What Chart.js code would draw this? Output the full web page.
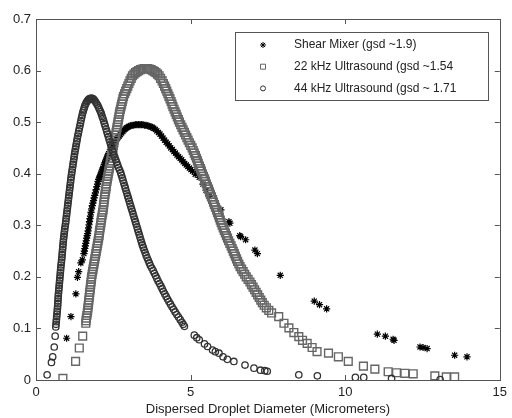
<!DOCTYPE html>
<html>
<head>
<meta charset="utf-8">
<script src="https://cdn.jsdelivr.net/npm/chart.js@4/dist/chart.umd.min.js"></script>
<style>
  html, body { margin: 0; padding: 0; background: #fff; }
  #wrap { width: 512px; height: 418px; position: relative; }
</style>
</head>
<body>
<div id="wrap"><canvas id="dropChart" width="512" height="418"></canvas></div>
<script>
// series labels, same order as the legend
const seriesNames = ["Shear Mixer (gsd ~1.9)", "22 kHz Ultrasound (gsd ~1.54", "44 kHz Ultrasound (gsd ~ 1.71"];

// tick labels
const xTicks = ["0", "5", "10", "15"];
const yTicks = ["0", "0.1", "0.2", "0.3", "0.4", "0.5", "0.6", "0.7"];

// Shear mixer (stars): [diameter, frequency]
const shearPts = [
  [0.99,0.081],[1.13,0.123],[1.29,0.167],[1.34,0.199],[1.38,0.210],[1.45,0.227],[1.50,0.233],
  [1.550,0.245],[1.565,0.250],[1.580,0.255],[1.595,0.260],[1.610,0.265],[1.625,0.270],[1.640,0.275],[1.655,0.280],
  [1.670,0.284],[1.685,0.289],[1.700,0.295],[1.715,0.301],[1.730,0.307],[1.745,0.313],[1.760,0.318],[1.780,0.325],
  [1.800,0.332],[1.820,0.338],[1.840,0.343],[1.860,0.348],[1.880,0.353],[1.900,0.358],[1.920,0.363],[1.945,0.369],
  [1.970,0.375],[1.990,0.380],[2.010,0.385],[2.030,0.389],[2.050,0.392],[2.070,0.395],[2.090,0.398],[2.110,0.401],
  [2.130,0.405],[2.150,0.408],[2.170,0.411],[2.190,0.414],[2.210,0.418],[2.230,0.421],[2.250,0.424],[2.270,0.427],
  [2.290,0.430],[2.310,0.433],[2.330,0.436],[2.350,0.439],[2.380,0.443],[2.410,0.447],[2.440,0.451],[2.470,0.454],
  [2.500,0.457],[2.530,0.460],[2.560,0.463],[2.590,0.465],[2.620,0.468],[2.650,0.470],[2.690,0.473],[2.730,0.476],
  [2.770,0.479],[2.810,0.482],[2.850,0.485],[2.890,0.487],[2.930,0.489],[2.970,0.490],[3.010,0.492],[3.060,0.493],
  [3.110,0.494],[3.160,0.494],[3.210,0.495],[3.260,0.495],[3.310,0.495],[3.360,0.495],[3.410,0.495],[3.460,0.495],
  [3.510,0.494],[3.560,0.494],[3.610,0.493],[3.660,0.492],[3.710,0.491],[3.760,0.490],[3.810,0.488],[3.860,0.486],
  [3.910,0.483],[3.960,0.480],[4.010,0.477],[4.060,0.473],[4.110,0.469],[4.160,0.465],[4.210,0.461],[4.260,0.458],
  [4.310,0.454],[4.360,0.450],[4.410,0.447],[4.460,0.443],[4.510,0.440],[4.560,0.436],[4.610,0.433],[4.660,0.430],
  [4.710,0.427],[4.760,0.423],[4.810,0.420],[4.860,0.417],[4.910,0.414],[4.960,0.411],[5.010,0.408],[5.060,0.405],
  [5.150,0.399],[5.280,0.393],[5.40,0.380],[5.50,0.368],[5.60,0.356],[5.98,0.330],[6.24,0.307],[6.27,0.304],
  [6.59,0.280],[6.62,0.278],[6.78,0.272],[7.08,0.252],[7.16,0.245],[7.90,0.203],[9.00,0.153],[9.17,0.146],[9.40,0.138],
  [11.04,0.089],[11.30,0.085],[11.55,0.079],[11.58,0.077],[12.42,0.064],[12.52,0.063],[12.65,0.061],[13.54,0.048],[13.94,0.045]
];

// 22 kHz ultrasound (squares)
const us22Pts = [
  [0.87,0.003],[1.28,0.036],[1.40,0.062],[1.51,0.085],
  [1.610,0.110],[1.620,0.115],[1.630,0.120],[1.645,0.125],[1.660,0.130],[1.670,0.135],[1.680,0.140],[1.690,0.145],
  [1.700,0.150],[1.710,0.155],[1.720,0.160],[1.730,0.165],[1.740,0.170],[1.750,0.175],[1.760,0.180],[1.770,0.185],
  [1.780,0.190],[1.790,0.195],[1.800,0.200],[1.815,0.205],[1.830,0.210],[1.845,0.215],[1.860,0.220],[1.875,0.225],
  [1.890,0.230],[1.905,0.235],[1.920,0.240],[1.935,0.245],[1.950,0.250],[1.965,0.255],[1.980,0.260],[1.995,0.265],
  [2.010,0.270],[2.025,0.275],[2.040,0.280],[2.050,0.285],[2.060,0.290],[2.075,0.295],[2.090,0.300],[2.100,0.305],
  [2.110,0.310],[2.125,0.315],[2.140,0.320],[2.155,0.325],[2.170,0.330],[2.180,0.335],[2.190,0.340],[2.200,0.345],
  [2.210,0.350],[2.220,0.355],[2.230,0.360],[2.245,0.365],[2.260,0.370],[2.270,0.375],[2.280,0.380],[2.295,0.385],
  [2.310,0.390],[2.325,0.395],[2.340,0.400],[2.355,0.405],[2.370,0.410],[2.385,0.415],[2.400,0.420],[2.415,0.425],
  [2.430,0.430],[2.445,0.435],[2.460,0.440],[2.475,0.445],[2.490,0.450],[2.505,0.455],[2.520,0.460],[2.535,0.465],
  [2.550,0.470],[2.570,0.475],[2.590,0.480],[2.605,0.485],[2.620,0.490],[2.635,0.495],[2.650,0.500],[2.665,0.505],
  [2.680,0.510],[2.695,0.515],[2.710,0.520],[2.730,0.525],[2.750,0.530],[2.770,0.535],[2.790,0.540],[2.810,0.545],
  [2.830,0.550],[2.865,0.555],[2.900,0.560],[2.935,0.565],[2.970,0.570],[3.005,0.575],[3.040,0.580],[3.080,0.585],
  [3.120,0.590],[3.170,0.593],[3.220,0.596],[3.270,0.598],[3.320,0.600],[3.380,0.602],[3.440,0.603],[3.500,0.604],
  [3.560,0.604],[3.610,0.604],[3.660,0.603],[3.720,0.602],[3.780,0.600],[3.830,0.598],[3.880,0.596],[3.930,0.593],
  [3.980,0.590],[4.030,0.585],[4.080,0.580],[4.120,0.575],[4.160,0.570],[4.195,0.565],[4.230,0.560],[4.265,0.555],
  [4.300,0.550],[4.335,0.545],[4.370,0.540],[4.400,0.535],[4.430,0.530],[4.465,0.525],[4.500,0.520],[4.535,0.515],
  [4.570,0.510],[4.605,0.505],[4.640,0.500],[4.680,0.495],[4.720,0.490],[4.760,0.485],[4.800,0.480],[4.840,0.475],
  [4.880,0.470],[4.920,0.465],[4.960,0.460],[5.005,0.455],[5.050,0.450],[5.085,0.445],[5.120,0.440],[5.155,0.435],
  [5.190,0.430],[5.220,0.425],[5.250,0.420],[5.285,0.415],[5.320,0.410],[5.350,0.405],[5.380,0.400],[5.415,0.395],
  [5.450,0.390],[5.480,0.385],[5.510,0.380],[5.545,0.375],[5.580,0.370],[5.610,0.365],[5.640,0.360],[5.675,0.355],
  [5.710,0.350],[5.740,0.345],[5.770,0.340],[5.805,0.335],[5.840,0.330],[5.870,0.325],[5.900,0.320],[5.930,0.315],
  [5.960,0.310],[5.990,0.305],[6.020,0.300],[6.055,0.295],[6.090,0.290],[6.125,0.285],[6.160,0.280],[6.195,0.275],
  [6.230,0.270],[6.270,0.265],[6.310,0.260],[6.345,0.255],[6.380,0.250],[6.415,0.245],[6.450,0.240],[6.485,0.235],
  [6.520,0.230],[6.560,0.225],[6.600,0.220],[6.650,0.215],[6.700,0.210],[6.750,0.205],[6.800,0.200],[6.860,0.195],
  [6.920,0.190],[6.970,0.185],[7.020,0.180],[7.070,0.175],[7.120,0.170],[7.170,0.165],[7.220,0.160],[7.270,0.155],
  [7.320,0.150],[7.380,0.145],[7.450,0.140],[7.530,0.135],[7.620,0.130],
  [7.85,0.123],[8.02,0.110],[8.18,0.101],[8.34,0.092],[8.50,0.084],[8.62,0.077],[8.77,0.071],[8.93,0.063],[9.09,0.055],
  [9.46,0.052],[9.78,0.045],[10.10,0.036],[10.59,0.027],[10.96,0.021],[11.39,0.016],[11.66,0.014],[11.93,0.013],
  [12.20,0.012],[12.90,0.008],[13.27,0.006],[13.54,0.006]
];

// 44 kHz ultrasound (circles)
const us44Pts = [
  [0.36,0.010],[0.50,0.034],[0.54,0.045],[0.59,0.064],[0.62,0.085],
  [0.640,0.103],[0.647,0.108],[0.655,0.113],[0.662,0.118],[0.670,0.123],[0.677,0.128],[0.685,0.133],[0.692,0.138],
  [0.700,0.143],[0.705,0.148],[0.710,0.153],[0.715,0.158],[0.720,0.163],[0.727,0.168],[0.735,0.173],[0.742,0.178],
  [0.750,0.183],[0.757,0.188],[0.765,0.193],[0.772,0.198],[0.780,0.203],[0.787,0.208],[0.795,0.213],[0.802,0.218],
  [0.810,0.223],[0.820,0.228],[0.830,0.233],[0.837,0.238],[0.845,0.243],[0.852,0.248],[0.860,0.253],[0.867,0.258],
  [0.875,0.263],[0.882,0.268],[0.890,0.273],[0.900,0.278],[0.910,0.283],[0.920,0.288],[0.930,0.293],[0.942,0.298],
  [0.955,0.303],[0.965,0.308],[0.975,0.313],[0.985,0.318],[0.995,0.323],[1.005,0.328],[1.015,0.333],[1.025,0.338],
  [1.035,0.343],[1.045,0.348],[1.055,0.353],[1.065,0.358],[1.075,0.363],[1.085,0.368],[1.095,0.373],[1.105,0.378],
  [1.115,0.383],[1.125,0.388],[1.135,0.393],[1.147,0.398],[1.160,0.403],[1.172,0.408],[1.185,0.413],[1.197,0.418],
  [1.210,0.423],[1.222,0.428],[1.235,0.433],[1.247,0.438],[1.260,0.443],[1.275,0.448],[1.290,0.453],[1.305,0.458],
  [1.320,0.463],[1.335,0.468],[1.350,0.473],[1.367,0.478],[1.385,0.483],[1.402,0.488],[1.420,0.493],[1.437,0.498],
  [1.455,0.503],[1.472,0.508],[1.490,0.513],[1.510,0.518],[1.530,0.522],[1.550,0.526],[1.570,0.530],[1.595,0.534],
  [1.620,0.537],[1.645,0.540],[1.670,0.542],[1.700,0.544],[1.730,0.545],[1.760,0.546],[1.790,0.546],[1.820,0.546],
  [1.850,0.545],[1.880,0.543],[1.910,0.541],[1.940,0.538],[1.970,0.535],[2.000,0.532],[2.030,0.528],[2.060,0.524],
  [2.090,0.520],[2.115,0.516],[2.140,0.511],[2.165,0.507],[2.190,0.502],[2.215,0.497],[2.240,0.492],[2.265,0.487],
  [2.290,0.482],[2.315,0.477],[2.340,0.472],[2.365,0.467],[2.390,0.462],[2.415,0.457],[2.440,0.452],[2.465,0.447],
  [2.490,0.442],[2.520,0.437],[2.550,0.432],[2.580,0.427],[2.610,0.422],[2.640,0.417],[2.670,0.412],[2.705,0.407],
  [2.740,0.402],[2.765,0.397],[2.790,0.392],[2.815,0.387],[2.840,0.382],[2.865,0.377],[2.890,0.372],[2.915,0.367],
  [2.940,0.362],[2.965,0.357],[2.990,0.352],[3.015,0.347],[3.040,0.342],[3.065,0.337],[3.090,0.332],[3.115,0.327],
  [3.140,0.322],[3.165,0.317],[3.190,0.312],[3.215,0.307],[3.240,0.302],[3.265,0.297],[3.290,0.292],[3.315,0.287],
  [3.340,0.282],[3.365,0.277],[3.390,0.272],[3.415,0.267],[3.440,0.262],[3.470,0.257],[3.500,0.252],[3.530,0.247],
  [3.560,0.242],[3.595,0.237],[3.630,0.232],[3.665,0.227],[3.700,0.222],[3.745,0.217],[3.790,0.212],[3.830,0.207],
  [3.870,0.202],[3.910,0.197],[3.950,0.192],[3.995,0.187],[4.040,0.182],[4.080,0.177],[4.120,0.172],[4.165,0.167],
  [4.210,0.162],[4.255,0.157],[4.300,0.152],[4.350,0.147],[4.400,0.142],[4.450,0.137],[4.500,0.132],[4.555,0.127],
  [4.610,0.122],[4.665,0.117],[4.720,0.112],[4.760,0.108],[4.800,0.104],
  [5.12,0.087],[5.20,0.082],[5.28,0.078],[5.45,0.070],[5.55,0.065],[5.71,0.058],[5.80,0.055],[5.92,0.052],[6.05,0.045],
  [6.19,0.040],[6.40,0.036],[6.76,0.029],[7.05,0.023],[7.26,0.019],[7.40,0.018],[7.48,0.017],[8.50,0.010],[9.10,0.008],
  [10.33,0.005],[10.60,0.005],[11.50,0.003],[13.07,0.001]
];

function toPoints(pts) {
  return pts.map(p => ({ x: p[0], y: p[1] }));
}

const FONT = "Arial, 'Liberation Sans', sans-serif";
const AXIS_COLOR = "#555";
const TEXT_COLOR = "#222";

// box round the plot + inward ticks on all four sides
const boxTicks = {
  id: "boxTicks",
  afterDatasetsDraw(chart) {
    const { ctx, chartArea: a, scales } = chart;
    ctx.save();
    ctx.strokeStyle = AXIS_COLOR;
    ctx.lineWidth = 1;
    ctx.strokeRect(Math.round(a.left) + 0.5, Math.round(a.top) + 0.5,
      Math.round(a.right - a.left), Math.round(a.bottom - a.top));
    ctx.beginPath();
    xTicks.forEach(t => {
      const px = Math.round(scales.x.getPixelForValue(Number(t))) + 0.5;
      ctx.moveTo(px, a.bottom); ctx.lineTo(px, a.bottom - 5);
      ctx.moveTo(px, a.top); ctx.lineTo(px, a.top + 5);
    });
    yTicks.forEach(t => {
      const py = Math.round(scales.y.getPixelForValue(Number(t))) + 0.5;
      ctx.moveTo(a.left, py); ctx.lineTo(a.left + 5, py);
      ctx.moveTo(a.right, py); ctx.lineTo(a.right - 5, py);
    });
    ctx.stroke();
    ctx.restore();
  }
};

// legend box inside the plot, top right
const insideLegend = {
  id: "insideLegend",
  afterDraw(chart) {
    const ctx = chart.ctx;
    const bx = 235.5, by = 32.5, bw = 253, bh = 68;
    ctx.save();
    ctx.fillStyle = "#fff";
    ctx.fillRect(bx, by, bw, bh);
    ctx.strokeStyle = AXIS_COLOR;
    ctx.lineWidth = 1;
    ctx.strokeRect(bx, by, bw, bh);
    chart.data.datasets.forEach((ds, i) => {
      const cy = 45 + i * 21.7, cx = 263;
      ctx.strokeStyle = ds.borderColor;
      ctx.lineWidth = 1;
      ctx.beginPath();
      if (ds.pointStyle === "star") {
        const r = 3;
        ctx.moveTo(cx - r, cy); ctx.lineTo(cx + r, cy);
        ctx.moveTo(cx, cy - r); ctx.lineTo(cx, cy + r);
        ctx.moveTo(cx - r * 0.7, cy - r * 0.7); ctx.lineTo(cx + r * 0.7, cy + r * 0.7);
        ctx.moveTo(cx - r * 0.7, cy + r * 0.7); ctx.lineTo(cx + r * 0.7, cy - r * 0.7);
      } else if (ds.pointStyle === "rect") {
        ctx.rect(cx - 2.5, cy - 2.5, 5, 5);
      } else {
        ctx.arc(cx, cy, 2.5, 0, Math.PI * 2);
      }
      ctx.stroke();
      ctx.fillStyle = TEXT_COLOR;
      ctx.font = "12px " + FONT;
      ctx.textBaseline = "middle";
      ctx.textAlign = "left";
      ctx.fillText(ds.label, 294, cy);
    });
    ctx.restore();
  }
};

new Chart(document.getElementById("dropChart"), {
  type: "scatter",
  data: {
    datasets: [
      { label: seriesNames[0], data: toPoints(shearPts), pointStyle: "star", pointRadius: 3.6,
        borderColor: "#000", backgroundColor: "#000", pointBorderWidth: 1.2, order: 3 },
      { label: seriesNames[1], data: toPoints(us22Pts), pointStyle: "rect", pointRadius: 5.5,
        borderColor: "#666", backgroundColor: "rgba(0,0,0,0)", pointBorderWidth: 1.4, order: 2 },
      { label: seriesNames[2], data: toPoints(us44Pts), pointStyle: "circle", pointRadius: 3.2,
        borderColor: "#333", backgroundColor: "rgba(0,0,0,0)", pointBorderWidth: 1.3, order: 1 }
    ]
  },
  options: {
    responsive: false,
    animation: false,
    events: [],
    layout: { padding: { top: 19, right: 10, left: 0, bottom: 0 } },
    plugins: { legend: { display: false }, tooltip: { enabled: false } },
    scales: {
      x: {
        type: "linear", min: 0, max: 15,
        grid: { display: false, drawTicks: false },
        border: { display: false },
        ticks: { stepSize: 5, padding: 5, color: TEXT_COLOR, font: { family: FONT, size: 13 },
          maxRotation: 0, callback: (v, i) => xTicks[i] },
        title: { display: true, text: "Dispersed Droplet Diameter (Micrometers)", color: TEXT_COLOR,
          font: { family: FONT, size: 13 }, padding: { top: 2, bottom: 1 } },
        afterFit: s => { s.height = 38; }
      },
      y: {
        type: "linear", min: 0, max: 0.7,
        grid: { display: false, drawTicks: false },
        border: { display: false },
        ticks: { stepSize: 0.1, padding: 5, color: TEXT_COLOR, font: { family: FONT, size: 13 },
          callback: (v, i) => yTicks[i] },
        afterFit: s => { s.width = 36; }
      }
    }
  },
  plugins: [boxTicks, insideLegend]
});
</script>
</body>
</html>
